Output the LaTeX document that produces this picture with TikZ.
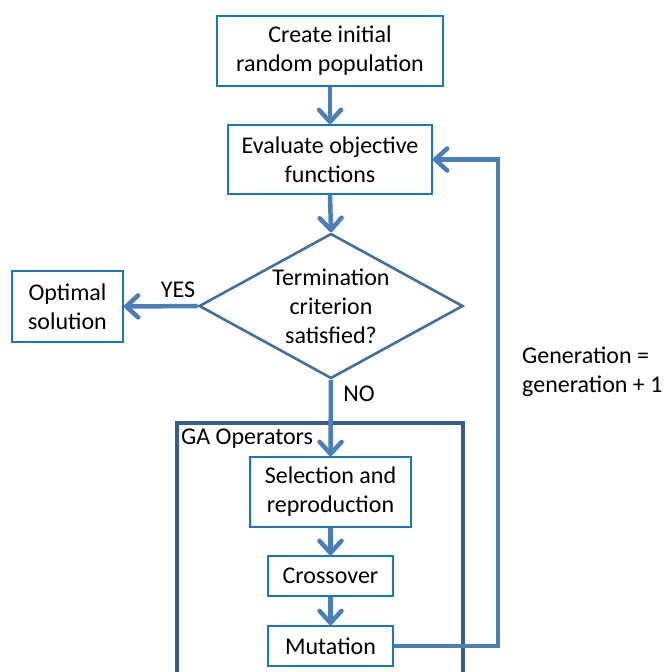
\documentclass[tikz,border=0pt]{standalone}
\usepackage{fontspec}
\setmainfont{Carlito}
\usetikzlibrary{arrows.meta,shapes.geometric}
\definecolor{arrowblue}{HTML}{4A7EBB}
\definecolor{boxblue}{HTML}{1C74C4}
\definecolor{diamondblue}{HTML}{41709E}
\definecolor{frameblue}{HTML}{375B8A}
\begin{document}
\begin{tikzpicture}[x=1pt,y=-1pt,
  font=\fontsize{24}{29}\selectfont,
  box/.style={draw=boxblue, line width=1.8pt, inner sep=0pt, align=center, fill=white},
  arr/.style={draw=arrowblue, line width=4.5pt, -{Straight Barb[length=12pt,width=22pt,round]}},
  plain/.style={draw=arrowblue, line width=4.5pt},
  txt/.style={inner sep=0pt, align=center}]
\useasboundingbox (0,0) rectangle (668,672);

% GA operators frame
\draw[frameblue, line width=3.5pt] (177,700) -- (177,423) -- (463,423) -- (463,700);
\node[txt, anchor=west] (galabel) at (181,439) {GA Operators};

% nodes
\node[box, minimum width=226pt, minimum height=70pt] (create) at (330,51) {Create initial\\random population};
\node[box, minimum width=204pt, minimum height=69pt] (eval) at (330,159.5) {Evaluate objective\\functions};
\node[diamond, draw=diamondblue, line width=2.6pt, minimum width=264pt, minimum height=145pt, inner sep=0pt] (term) at (331,306) {};
\node[txt] (termtxt) at (331,306) {Termination\\criterion\\satisfied?};
\node[box, minimum width=111pt, minimum height=71pt] (opt) at (67.5,306.5) {Optimal\\solution};
\node[box, minimum width=161pt, minimum height=70pt] (sel) at (330.5,492) {Selection and\\reproduction};
\node[box, minimum width=125pt, minimum height=40pt] (cross) at (330.5,576) {Crossover};
\node[box, minimum width=125pt, minimum height=40pt] (mut) at (330.5,646) {Mutation};

% labels
\node[txt] (yes) at (178,290) {YES};
\node[txt] (no) at (359,394) {NO};
\node[txt, anchor=west, align=left] (gen) at (522,372) {Generation =\\generation + 1};

% connectors
\draw[arr] (create.south) -- (eval.north);
\draw[arr] (eval.south) -- (term.north);
\draw[arr] (term.west) -- (opt.east);
\draw[arr] (term.south) -- (sel.north);
\draw[arr] (sel.south) -- (cross.north);
\draw[arr] (cross.south) -- (mut.north);
\coordinate (fbbot) at (498,646);
\coordinate (fbtop) at (498,159.5);
\draw[arr] (mut.east) -- (fbbot) -- (fbtop) -- (eval.east);
\end{tikzpicture}
\end{document}
